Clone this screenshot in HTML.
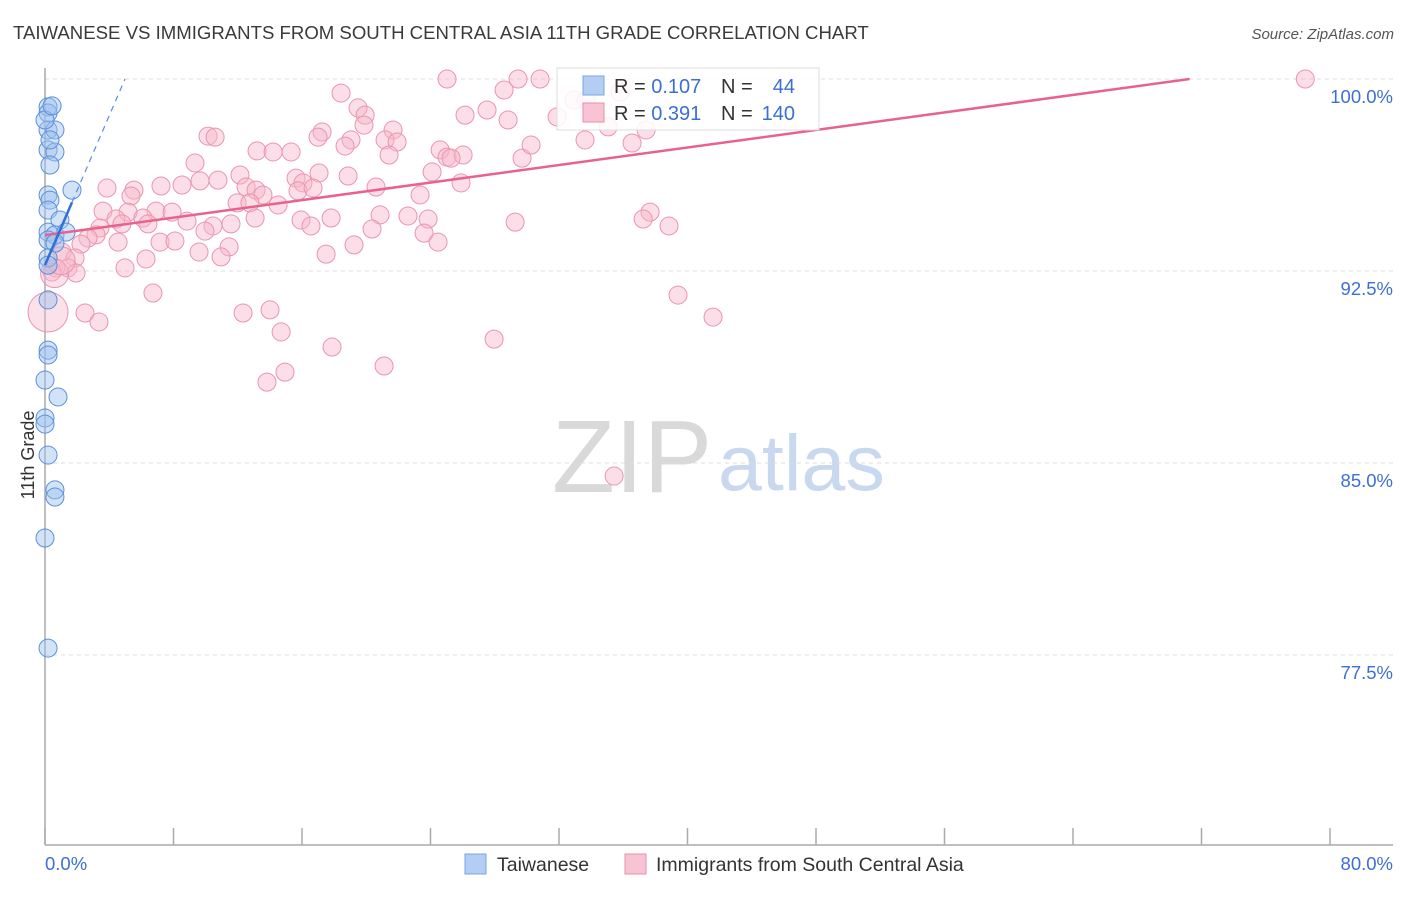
<!DOCTYPE html>
<html><head><meta charset="utf-8"><style>
body{margin:0;background:#fff;font-family:"Liberation Sans",sans-serif}
svg text{font-family:"Liberation Sans",sans-serif}
</style></head><body>
<svg id="chart" width="1406" height="892" viewBox="0 0 1406 892" xmlns="http://www.w3.org/2000/svg">
<text x="13" y="39" font-size="18.6" fill="#3a3a3a">TAIWANESE VS IMMIGRANTS FROM SOUTH CENTRAL ASIA 11TH GRADE CORRELATION CHART</text>
<text x="1394" y="39" font-size="15" fill="#555" font-style="italic" text-anchor="end">Source: ZipAtlas.com</text>
<g>
<text x="552" y="492" font-family="Liberation Serif,serif" font-size="103" fill="#d9d9d9">ZIP</text>
<text x="718" y="490" font-size="79" fill="#c8d8ef">atlas</text>
</g>
<g id="grid"></g>
<g id="axes"></g>
<g id="pts"></g>
<g id="trends"></g>
<g>
<rect x="557" y="68" width="262" height="62" fill="#fff" fill-opacity="0.85" stroke="#ddd"/>
<rect x="583" y="76" width="21" height="19" fill="#b3cdf3" stroke="#7aa5e6"/>
<text x="614" y="93" font-size="20" fill="#333">R = <tspan fill="#3b6fd4">0.107</tspan></text>
<text x="721" y="93" font-size="20" fill="#333">N =</text>
<text x="795" y="93" font-size="20" fill="#3b6fd4" text-anchor="end">44</text>
<rect x="583" y="103" width="21" height="19" fill="#f8c3d3" stroke="#eb8fac"/>
<text x="614" y="120" font-size="20" fill="#333">R = <tspan fill="#3b6fd4">0.391</tspan></text>
<text x="721" y="120" font-size="20" fill="#333">N =</text>
<text x="795" y="120" font-size="20" fill="#3b6fd4" text-anchor="end">140</text>
</g>
<g>
<rect x="465" y="854" width="21" height="20" fill="#b3cdf3" stroke="#7aa5e6"/>
<text x="497" y="871" font-size="19.5" fill="#333">Taiwanese</text>
<rect x="625" y="854" width="21" height="20" fill="#f8c3d3" stroke="#eb8fac"/>
<text x="656" y="871" font-size="19.5" fill="#333">Immigrants from South Central Asia</text>
</g>
<text transform="translate(34,455) rotate(-90)" font-size="18" fill="#333" text-anchor="middle">11th Grade</text>
</svg>
<script>
const yTicks=[100,92.5,85,77.5];
const yTickLabels=["100.0%","92.5%","85.0%","77.5%"];
const xTickVals=[0,8,16,24,32,40,48,56,64,72,80];
const xEndLabels=["0.0%","80.0%"];
const blueX=[0.19,0.19,0.19,0.62,0.19,0.62,0.31,0.19,0.31,0.19,0.93,0.19,0.62,1.31,0.19,0.62,0.19,0.19,0.19,0.19,0.19,0,0.81,0,0,0.19,0.62,0.62,0,0.19,1.68,0.31,0,0.44];
const blueY=[98.91,98.67,98.01,98.01,97.23,97.15,96.64,95.47,95.27,94.88,94.49,94.02,93.91,94.02,93.71,93.59,93.01,92.73,91.37,89.41,89.22,88.24,87.58,86.76,86.52,85.31,83.95,83.67,82.07,77.77,95.66,97.62,98.40,98.95];
const pinkX=[78.46,25.03,29.45,30.82,28.58,32.94,33.69,35.80,18.43,19.49,19.93,27.52,26.15,31.88,28.83,35.06,37.42,36.55,33.62,21.67,19.86,17.25,17.00,19.05,18.68,21.17,21.92,10.15,10.59,13.20,14.20,15.32,24.60,25.03,26.03,25.28,21.42,29.70,30.26,9.34,12.14,17.06,18.87,15.63,16.06,8.53,9.65,10.77,5.54,3.86,7.22,12.52,13.14,15.75,16.69,20.61,24.10,25.90,23.35,5.35,13.57,11.96,12.76,14.51,3.61,5.17,6.91,7.91,8.84,4.42,6.10,6.41,3.42,4.79,10.46,11.58,9.96,13.08,15.94,16.56,17.81,20.86,22.60,23.85,20.36,23.60,29.27,37.67,37.24,38.85,3.18,2.68,4.55,7.16,8.09,9.59,11.46,19.24,24.47,2.24,1.06,1.87,6.29,10.96,17.50,4.98,1.43,0.68,0.44,1.93,6.72,39.41,2.49,3.36,12.33,14.01,14.70,17.87,41.59,27.96,21.11,14.94,13.82,35.43];
const pinkY=[100,100,100,100,99.57,99.18,99.18,99.49,99.45,98.87,98.59,98.79,98.59,98.52,98.40,98.13,98.01,97.50,97.62,98.01,98.20,97.93,97.73,97.62,97.38,97.62,97.54,97.77,97.73,97.19,97.15,97.15,97.23,96.95,97.03,96.91,97.03,96.91,97.42,96.72,96.25,96.33,96.21,96.13,95.94,95.86,96.02,96.05,95.66,95.74,95.82,95.78,95.66,95.63,95.74,95.78,96.37,95.94,95.47,95.43,95.47,95.16,95.16,95.08,94.84,94.80,94.84,94.80,94.45,94.53,94.57,94.34,94.18,94.34,94.26,94.34,94.06,94.57,94.49,94.26,94.57,94.69,94.65,94.53,94.14,93.98,94.41,94.80,94.53,94.26,93.91,93.79,93.63,93.63,93.67,93.24,93.44,93.52,93.63,93.55,93.24,93.01,92.97,93.05,93.16,92.62,92.62,92.62,92.46,92.42,91.64,91.56,90.86,90.51,90.86,90.98,90.12,89.53,90.70,89.84,88.79,88.55,88.16,84.49];
const pinkBigX=[0.19,0.6,1.0];
const pinkBigY=[90.9,92.4,92.9];
const blueTrend=[92.73,1.46];
const pinkTrend=[93.9,0.0856];
const NS="http://www.w3.org/2000/svg";
const X=v=>45+v*(1285/80);
const Y=v=>79+(100-v)*25.6;
function mk(tag,parent,attrs){const e=document.createElementNS(NS,tag);for(const k in attrs)e.setAttribute(k,attrs[k]);parent.appendChild(e);return e;}
const grid=document.getElementById('grid'),axes=document.getElementById('axes'),pts=document.getElementById('pts'),tr=document.getElementById('trends');
yTicks.forEach((t,i)=>{
  const l=mk('line',grid,{x1:45,x2:1393,y1:Y(t),y2:Y(t),stroke:'#ddd','stroke-dasharray':'4,4'});
  
  
  const tx=mk('text',axes,{x:1393,y:Y(t)+24,'font-size':18.5,fill:'#3d6fd6','text-anchor':'end'});
  tx.textContent=yTickLabels[i];
  
  
});
const ya=mk('line',axes,{x1:45,x2:45,y1:68,y2:845,stroke:'#aaa','stroke-width':1.5});


const xa=mk('line',axes,{x1:45,x2:1393,y1:845,y2:845,stroke:'#aaa','stroke-width':1.5});


xTickVals.forEach(v=>{
  const t=mk('line',axes,{x1:X(v),x2:X(v),y1:828,y2:845,stroke:'#aaa','stroke-width':1.5});
  
  
});
const xl0=mk('text',axes,{x:45,y:870,'font-size':18.5,fill:'#3d6fd6'});xl0.textContent=xEndLabels[0];


const xl1=mk('text',axes,{x:1393,y:870,'font-size':18.5,fill:'#3d6fd6','text-anchor':'end'});xl1.textContent=xEndLabels[1];


pinkX.forEach((x,i)=>{
  const c=mk('circle',pts,{cx:X(x),cy:Y(pinkY[i]),r:9,fill:'#f6b6ca','fill-opacity':0.45,stroke:'#eb94b0','stroke-width':1});
  
  
});
pinkBigX.forEach((x,i)=>{
  const c=mk('circle',pts,{cx:X(x),cy:Y(pinkBigY[i]),r:i==0?20:14,fill:'#f6b6ca','fill-opacity':0.4,stroke:'#eb94b0','stroke-width':1});
  
  
});
blueX.forEach((x,i)=>{
  const c=mk('circle',pts,{cx:X(x),cy:Y(blueY[i]),r:9,fill:'#9ec0ee','fill-opacity':0.45,stroke:'#5b8fdc','stroke-width':1});
  
  
});
const pEnd=Math.min(80,(100-pinkTrend[0])/pinkTrend[1]);
const pl=mk('line',tr,{x1:X(0),y1:Y(pinkTrend[0]),x2:X(pEnd),y2:Y(pinkTrend[0]+pinkTrend[1]*pEnd),stroke:'#e8628e','stroke-width':2.5});


const bSolidEnd=Math.max(...blueX);
const bl=mk('line',tr,{x1:X(0),y1:Y(blueTrend[0]),x2:X(bSolidEnd),y2:Y(blueTrend[0]+blueTrend[1]*bSolidEnd),stroke:'#2f6fd6','stroke-width':2.5});


const bEnd=(100-blueTrend[0])/blueTrend[1];
const bd=mk('line',tr,{x1:X(bSolidEnd),y1:Y(blueTrend[0]+blueTrend[1]*bSolidEnd),x2:X(bEnd),y2:Y(100),stroke:'#5b8fdc','stroke-width':1.2,'stroke-dasharray':'6,5'});


</script>
</body></html>
